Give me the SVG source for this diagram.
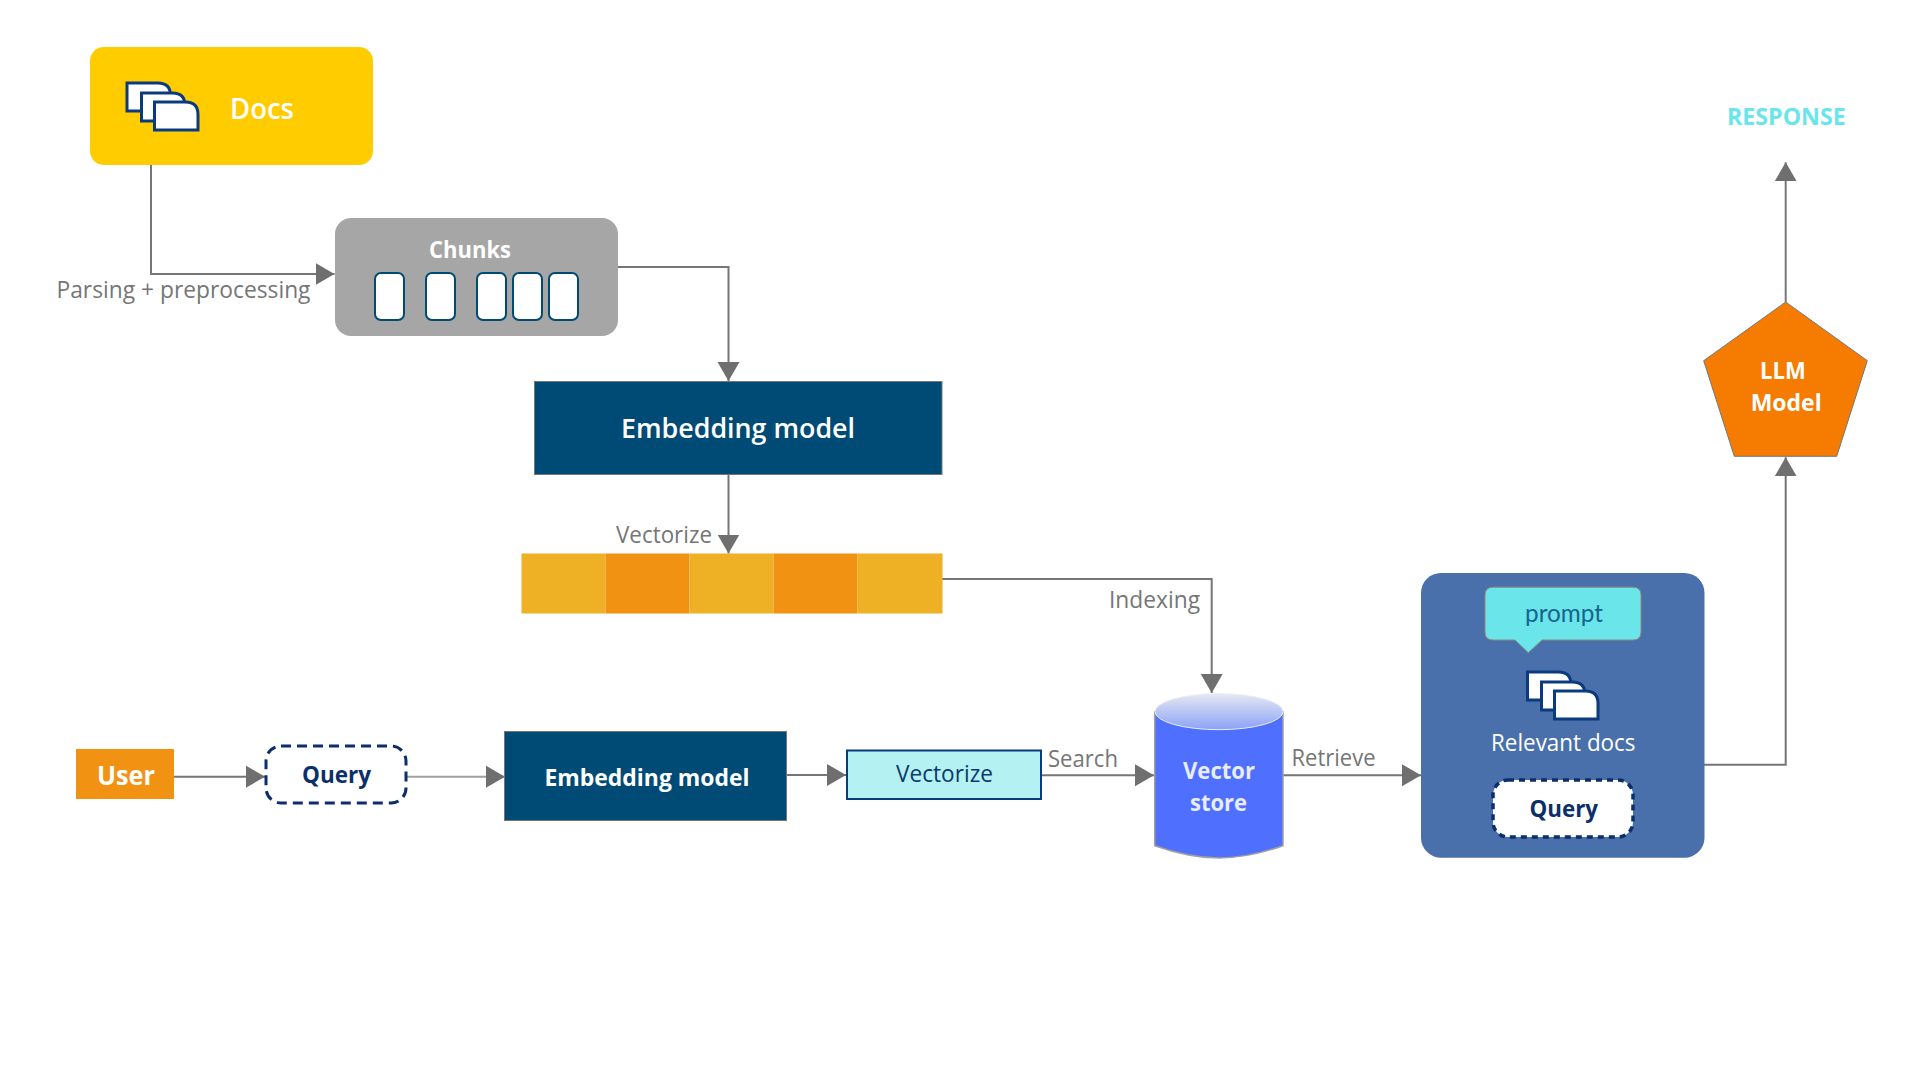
<svg xmlns="http://www.w3.org/2000/svg" width="1920" height="1080" viewBox="0 0 1920 1080">
<style>
text{font-family:"Open Sans","Noto Sans","Liberation Sans",sans-serif}
.b{font-weight:700}
.m{font-weight:600}
.w{fill:#fff}
.lab{fill:#767676;font-size:23px}
.nv{fill:#0b2f6b}
.ln{fill:none;stroke:#767676;stroke-width:2}
.doc{fill:#fff;stroke:#0b3a7e;stroke-width:3}
.chunk{fill:#fff;stroke:#004a73;stroke-width:2}
.dash{fill:#fff;stroke:#0b2f6b;stroke-width:3;stroke-dasharray:10 6}
.dash2{fill:#fff;stroke:#0b2f6b;stroke-width:3.5;stroke-dasharray:6 5}
</style>
<defs>
<marker id="ah" markerUnits="userSpaceOnUse" markerWidth="20" markerHeight="23" refX="19" refY="11" orient="auto"><path d="M0 0L19 11L0 22Z" fill="#6f6f6f"/></marker>
<linearGradient id="cap" x1="0" y1="0" x2="0" y2="1"><stop offset="0" stop-color="#e6e8f2"/><stop offset="1" stop-color="#8ba2f7"/></linearGradient>
<path id="d1" d="M0 0H31Q43.500 0 43.500 12.500V28H0Z"/>
</defs>
<rect width="1920" height="1080" fill="#fff"/>
<g id="connectors">
<path class="ln" marker-end="url(#ah)" d="M151 165V274H334.500"/>
<path class="ln" marker-end="url(#ah)" d="M618 267H728.500V381"/>
<path class="ln" marker-end="url(#ah)" d="M728.500 474V553.500"/>
<path class="ln" marker-end="url(#ah)" d="M942 579H1211.700V693"/>
<path class="ln" marker-end="url(#ah)" d="M173 776.700H265"/>
<path class="ln" style="stroke:#a0a0a0" marker-end="url(#ah)" d="M406 776.700H505"/>
<path class="ln" marker-end="url(#ah)" d="M786 775H846"/>
<path class="ln" marker-end="url(#ah)" d="M1042 775.300H1154"/>
<path class="ln" marker-end="url(#ah)" d="M1283 775.300H1421"/>
<path class="ln" marker-end="url(#ah)" d="M1704 764.700H1785.700V457.300"/>
<path class="ln" marker-end="url(#ah)" d="M1785.700 302V162.300"/>
</g>
<g id="docs">
<rect x="90" y="47" width="283" height="118" rx="14" fill="#ffcc00"/>
<use href="#d1" class="doc" x="127" y="83"/><use href="#d1" class="doc" x="141.500" y="93"/><use href="#d1" class="doc" x="154.500" y="102"/>
<text class="w m" x="230" y="119" font-size="28" textLength="64" lengthAdjust="spacingAndGlyphs">Docs</text>
</g>
<g id="chunks">
<rect x="335" y="218" width="283" height="118" rx="16" fill="#a6a6a6"/>
<text class="w b" x="429" y="257.500" font-size="23" textLength="82" lengthAdjust="spacingAndGlyphs">Chunks</text>
<rect class="chunk" x="375" y="273" width="29" height="47" rx="6"/><rect class="chunk" x="426" y="273" width="29" height="47" rx="6"/><rect class="chunk" x="477" y="273" width="29" height="47" rx="6"/><rect class="chunk" x="513" y="273" width="29" height="47" rx="6"/><rect class="chunk" x="549" y="273" width="29" height="47" rx="6"/>
</g>
<text class="lab" x="56.500" y="298" textLength="254" lengthAdjust="spacingAndGlyphs">Parsing + preprocessing</text>
<g id="embedding-top">
<rect x="534.500" y="381.500" width="407.500" height="93" fill="#004b76" stroke="#767676" stroke-width="1"/>
<text class="w m" x="621" y="438" font-size="27.500" textLength="234" lengthAdjust="spacingAndGlyphs">Embedding model</text>
</g>
<text class="lab" x="616" y="543" textLength="96" lengthAdjust="spacingAndGlyphs">Vectorize</text>
<g id="vector-bar">
<rect x="521.500" y="553.500" width="84" height="60" fill="#eeb025"/><rect x="605.500" y="553.500" width="84" height="60" fill="#f29213"/><rect x="689.500" y="553.500" width="84" height="60" fill="#eeb025"/><rect x="773.500" y="553.500" width="84" height="60" fill="#f29213"/><rect x="857.500" y="553.500" width="85" height="60" fill="#eeb025"/>
</g>
<text class="lab" x="1109" y="607.500" textLength="91" lengthAdjust="spacingAndGlyphs">Indexing</text>
<g id="user">
<rect x="76" y="749" width="98" height="50" fill="#f29213"/>
<text class="w b" x="97" y="785" font-size="27" textLength="58" lengthAdjust="spacingAndGlyphs">User</text>
</g>
<g id="query">
<rect class="dash" x="266" y="746" width="140" height="57" rx="15"/>
<text class="nv b" x="302" y="783" font-size="24" textLength="69" lengthAdjust="spacingAndGlyphs">Query</text>
</g>
<g id="embedding-bottom">
<rect x="504.500" y="731.500" width="282" height="89" fill="#004b76" stroke="#767676" stroke-width="1"/>
<text class="w b" x="544.500" y="786" font-size="23" textLength="205" lengthAdjust="spacingAndGlyphs">Embedding model</text>
</g>
<g id="vectorize">
<rect x="847" y="750.500" width="194" height="48.500" fill="#b4f1f2" stroke="#0b3a7e" stroke-width="2"/>
<text x="896" y="782" font-size="23" fill="#0b3a6e" textLength="97" lengthAdjust="spacingAndGlyphs">Vectorize</text>
</g>
<text class="lab" x="1048" y="766.500" textLength="70" lengthAdjust="spacingAndGlyphs">Search</text>
<g id="vector-store">
<path d="M1154.700 711.700V845.700Q1190 858 1219 858T1283 845.700V711.700Z" fill="#4f70ff" stroke="#a0a0a0" stroke-width="1.500"/>
<ellipse cx="1219" cy="711.700" rx="64" ry="18" fill="url(#cap)" stroke="#e8ecfa" stroke-width="1"/>
<text class="b" x="1183" y="779" font-size="24" fill="#e8ecff" textLength="72" lengthAdjust="spacingAndGlyphs">Vector</text>
<text class="b" x="1190" y="811" font-size="24" fill="#e8ecff" textLength="57" lengthAdjust="spacingAndGlyphs">store</text>
</g>
<text class="lab" x="1291.500" y="766" textLength="84" lengthAdjust="spacingAndGlyphs">Retrieve</text>
<g id="relevant">
<rect x="1421" y="573" width="283.500" height="284.700" rx="20" fill="#4a70ab"/>
<path d="M1493 587.200H1633Q1641 587.200 1641 595.200V632Q1641 640 1633 640H1542L1528.300 652.700L1515 640H1493Q1485 640 1485 632V595.200Q1485 587.200 1493 587.200Z" fill="#6ae5ea" stroke="#8a8a80" stroke-width="1"/>
<text x="1525" y="621.500" font-size="25" fill="#17648c" style="font-family:Lato,'Open Sans',sans-serif" textLength="78" lengthAdjust="spacingAndGlyphs">prompt</text>
<use href="#d1" class="doc" x="1527.500" y="672"/><use href="#d1" class="doc" x="1541.500" y="682"/><use href="#d1" class="doc" x="1554.500" y="691"/>
<text class="w" x="1491" y="751" font-size="23" textLength="144.500" lengthAdjust="spacingAndGlyphs">Relevant docs</text>
<rect class="dash2" x="1493" y="780" width="140" height="57" rx="15"/>
<text class="nv b" x="1529.500" y="817" font-size="24" textLength="68.500" lengthAdjust="spacingAndGlyphs">Query</text>
</g>
<g id="llm">
<path d="M1785.700 302L1867.300 360.700L1836.700 456.300H1734.300L1703.700 360.700Z" fill="#f57c00" stroke="#767676" stroke-width="1"/>
<text class="w b" x="1760" y="379" font-size="24" textLength="45.700" lengthAdjust="spacingAndGlyphs">LLM</text>
<text class="w b" x="1750.700" y="410.700" font-size="24" textLength="71" lengthAdjust="spacingAndGlyphs">Model</text>
</g>
<text id="response" class="b" x="1727" y="124.700" font-size="23.500" fill="#6ae5ea" textLength="118.700" lengthAdjust="spacingAndGlyphs">RESPONSE</text>
</svg>
